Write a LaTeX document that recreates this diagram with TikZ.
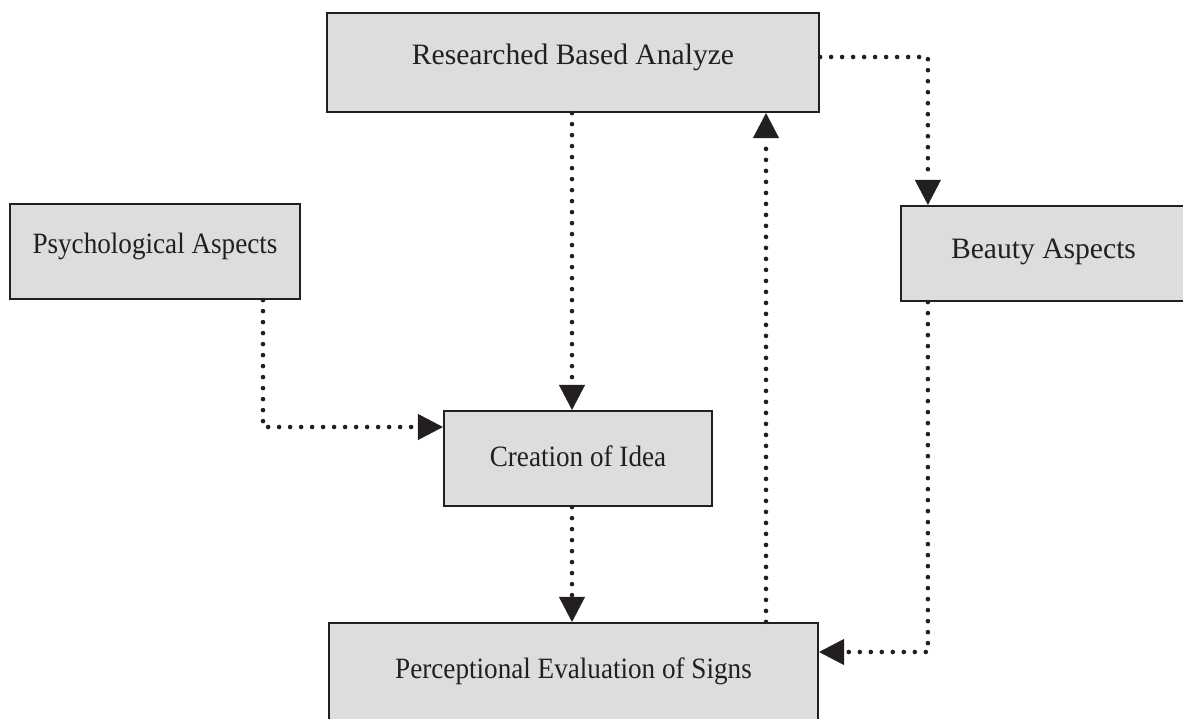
\documentclass[tikz,border=0pt]{standalone}
\usepackage{fontspec}
\setmainfont[FakeStretch=0.92]{Liberation Serif}
\newfontfamily\wideserif{Liberation Serif}
\usetikzlibrary{arrows.meta}
\definecolor{boxfill}{HTML}{DCDDDF}
\definecolor{ink}{HTML}{231F20}
\tikzset{
  box/.style={draw=ink, line width=2.2pt, fill=boxfill, rectangle, inner xsep=0pt, inner ysep=0pt,
    font=\fontsize{29.5pt}{32pt}\selectfont, text=ink},
  widebox/.style={box, font=\wideserif\fontsize{29.6pt}{32pt}\selectfont},
  conn/.style={draw=ink, line width=4.6pt, line cap=round, dash pattern=on 0pt off 11pt,
    -{Triangle[length=25pt,width=26pt,line width=0.4pt]}}
}
\begin{document}
\begin{tikzpicture}[x=1pt,y=-1pt]
\useasboundingbox (0,0) rectangle (1183,718);
\clip (0,0) rectangle (1183,718);
\fill[white] (0,0) rectangle (1183,718);

\node[widebox, minimum width=492pt, text height=51pt, text depth=48pt] (ra) at (573,62.5) {Researched Based Analyze};
\node[box, minimum width=290pt, text height=49pt, text depth=46pt] (psy) at (155,251.5) {Psychological Aspects};
\node[widebox, minimum width=285pt, text height=52pt, text depth=43pt] (bea) at (1043.5,253.5) {Beauty Aspects\hspace{9pt}};
\node[box, minimum width=268pt, text height=55pt, text depth=40pt] (idea) at (578,458.5) {Creation of Idea};
\node[box, minimum width=489pt, text height=55pt, text depth=42pt] (perc) at (573.5,671.5) {Perceptional Evaluation of Signs};

\coordinate (c1) at ([xshift=-6pt]idea.north);
\coordinate (c2) at ([xshift=28pt]bea.north west);
\coordinate (c2a) at ([yshift=5.5pt]ra.east);
\coordinate (c3) at ([xshift=108pt]psy.south);
\coordinate (c3b) at ([yshift=31.5pt]idea.west);
\coordinate (c5) at ([xshift=192.5pt]perc.north);
\coordinate (c6) at ([yshift=19.5pt]perc.east);

\draw[conn] (c1 |- ra.south) -- (c1);
\draw[conn] (c2a) -| (c2);
\draw[conn] (c3) |- (c3b);
\draw[conn] (c1 |- idea.south) -- (c1 |- perc.north);
\draw[conn] (c5) -- (c5 |- ra.south);
\draw[conn] (c2 |- bea.south) |- (c6);
\end{tikzpicture}
\end{document}
